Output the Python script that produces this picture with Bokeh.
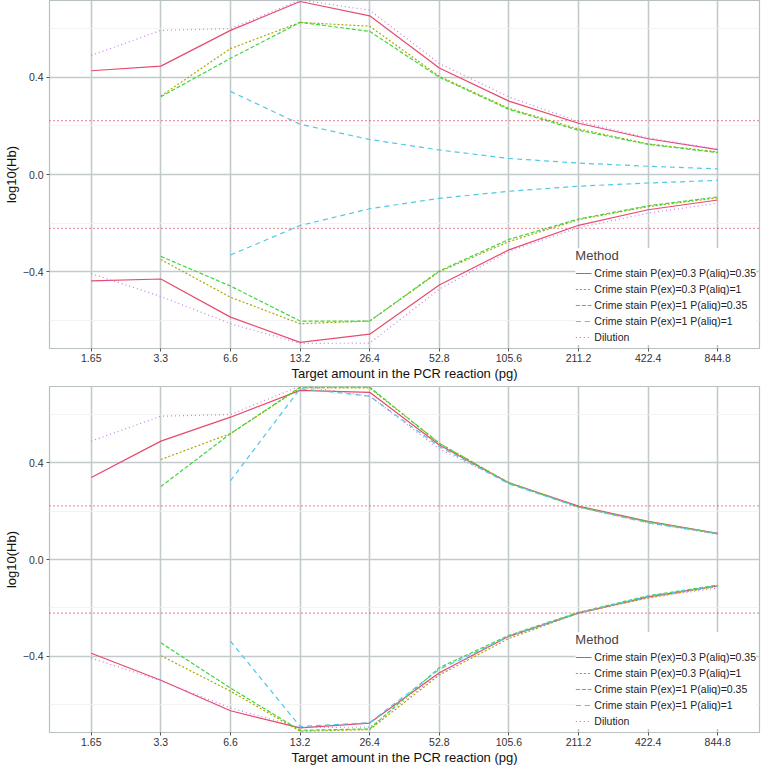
from bokeh.plotting import figure
from bokeh.layouts import column
from bokeh.models import (FactorRange, Range1d, FixedTicker, Span, Legend, LegendItem)
from bokeh.embed import file_html
from bokeh.resources import INLINE

cats = ["1.65", "3.3", "6.6", "13.2", "26.4", "52.8", "105.6", "211.2", "422.4", "844.8"]
methods = ["Crime stain P(ex)=0.3 P(aliq)=0.35", "Crime stain P(ex)=0.3 P(aliq)=1",
           "Crime stain P(ex)=1 P(aliq)=0.35", "Crime stain P(ex)=1 P(aliq)=1", "Dilution"]
thresholds = [0.2218, -0.2218]
y_ticks = [-0.4, 0.0, 0.4]
y_minor = [-0.6, -0.2, 0.2, 0.6]

dil_up = [0.490, 0.593, 0.600, 0.718, 0.676, 0.457, 0.319, 0.218, 0.151, 0.104]
dil_lo = [-0.408, -0.502, -0.614, -0.695, -0.694, -0.472, -0.316, -0.219, -0.159, -0.118]

top_red_up = [0.427, 0.446, 0.593, 0.712, 0.653, 0.438, 0.302, 0.211, 0.147, 0.102]
top_red_lo = [-0.438, -0.430, -0.587, -0.691, -0.657, -0.455, -0.310, -0.209, -0.145, -0.105]
top_olive_up = [None, 0.323, 0.518, 0.626, 0.610, 0.404, 0.272, 0.187, 0.126, 0.093]
top_olive_lo = [None, -0.350, -0.505, -0.614, -0.603, -0.400, -0.276, -0.186, -0.132, -0.096]
top_green_up = [None, 0.320, 0.478, 0.626, 0.589, 0.400, 0.268, 0.182, 0.124, 0.090]
top_green_lo = [None, -0.337, -0.459, -0.603, -0.603, -0.397, -0.267, -0.183, -0.129, -0.092]
top_cyan_up = [None, None, 0.342, 0.207, 0.144, 0.101, 0.066, 0.047, 0.034, 0.023]
top_cyan_lo = [None, None, -0.331, -0.210, -0.141, -0.098, -0.069, -0.048, -0.035, -0.024]

bot_red_up = [0.339, 0.490, 0.589, 0.700, 0.692, 0.474, 0.317, 0.221, 0.158, 0.108]
bot_red_lo = [-0.388, -0.500, -0.626, -0.697, -0.677, -0.469, -0.318, -0.222, -0.155, -0.109]
bot_olive_up = [None, 0.414, 0.521, 0.710, 0.710, 0.481, 0.317, 0.217, 0.156, 0.107]
bot_olive_lo = [None, -0.398, -0.545, -0.711, -0.704, -0.478, -0.327, -0.222, -0.159, -0.111]
bot_green_up = [None, 0.302, 0.521, 0.713, 0.713, 0.481, 0.317, 0.218, 0.156, 0.107]
bot_green_lo = [None, -0.345, -0.532, -0.707, -0.701, -0.448, -0.314, -0.219, -0.150, -0.106]
bot_cyan_up = [None, None, 0.326, 0.707, 0.676, 0.467, 0.313, 0.217, 0.152, 0.107]
bot_cyan_lo = [None, None, -0.338, -0.691, -0.675, -0.455, -0.318, -0.222, -0.152, -0.109]

colors = ["#E64A6A", "#A8A800", "#3DD63D", "#4CC8E8", "#C77CE8"]
dashes = ["solid", "2 2", "4 2", "5 4", "1 3"]

FONT = "Liberation Sans"


def make_panel(series, height, top_border, variant):
    p = figure(width=761, height=height, output_backend="svg", toolbar_location=None,
               x_range=FactorRange(factors=cats, range_padding=0.02, range_padding_units="percent"),
               y_range=Range1d(-0.716, 0.716),
               min_border_top=top_border, min_border_right=2, min_border_left=0,
               min_border_bottom=0)
    p.background_fill_color = "white"
    p.border_fill_color = "white"
    p.outline_line_color = "#b8bfc0"
    p.outline_line_width = 1.2
    p.yaxis.ticker = FixedTicker(ticks=y_ticks, minor_ticks=y_minor)
    p.yaxis.major_label_overrides = {-0.4: "\u22120.4", 0.0: "0.0", 0.4: "0.4"}
    for ax in (p.xaxis[0], p.yaxis[0]):
        ax.axis_line_color = None
        ax.major_tick_in = 0
        ax.major_tick_out = 3
        ax.major_tick_line_color = "#555555"
        ax.minor_tick_line_color = None
        ax.major_label_text_font = FONT
        ax.major_label_text_font_size = "10.5px"
        ax.major_label_text_color = "#333333"
        ax.major_label_standoff = 2
        ax.axis_label_text_font = FONT
        ax.axis_label_text_font_size = "13px"
        ax.axis_label_text_font_style = "normal"
        ax.axis_label_text_color = "#111111"
        ax.axis_label_standoff = 1
    p.xaxis.axis_label = "Target amount in the PCR reaction (pg)"
    p.yaxis.axis_label = "log10(Hb)"
    p.xgrid.grid_line_color = "#c3cacc"
    p.xgrid.grid_line_width = 1.6
    p.ygrid.grid_line_color = "#c3cacc"
    p.ygrid.grid_line_width = 1.6
    p.ygrid.minor_grid_line_color = "#f0f0f0"
    p.ygrid.minor_grid_line_width = 0.8
    for t in thresholds:
        p.add_layout(Span(location=t, dimension="width", line_color="#E0304A",
                          line_dash="1 3", line_width=1.3))
    items = []
    for i, (up, lo) in enumerate(series):
        rs = []
        for vals in (up, lo):
            xs = [c for c, v in zip(cats, vals) if v is not None]
            ys = [v for v in vals if v is not None]
            if variant == "alpha":
                rs.append(p.line(xs, ys, line_color=colors[i], line_alpha=0.99,
                                 line_dash=dashes[i], line_width=1.2))
            else:
                rs.append(p.line(xs, ys, line_color=colors[i], line_dash=dashes[i],
                                 line_width=1.2))
        items.append(LegendItem(label=methods[i], renderers=rs))
    leg = Legend(items=items, location="bottom_right", title="Method")
    leg.title_text_font = FONT
    leg.title_text_font_size = "13px"
    leg.title_text_font_style = "normal"
    leg.title_standoff = 2
    leg.label_text_font = FONT
    leg.label_text_font_size = "10.5px"
    leg.label_text_color = "#222222"
    leg.label_height = 16
    leg.glyph_height = 16
    leg.glyph_width = 16
    leg.label_standoff = 3
    leg.spacing = 0
    leg.padding = 4
    leg.margin = 3
    leg.border_line_color = None
    leg.background_fill_color = "white"
    leg.background_fill_alpha = 1.0
    p.add_layout(leg)
    return p


top_series = [(top_red_up, top_red_lo), (top_olive_up, top_olive_lo),
              (top_green_up, top_green_lo), (top_cyan_up, top_cyan_lo), (dil_up, dil_lo)]
bot_series = [(bot_red_up, bot_red_lo), (bot_olive_up, bot_olive_lo),
              (bot_green_up, bot_green_lo), (bot_cyan_up, bot_cyan_lo), (dil_up, dil_lo)]

p1 = make_panel(top_series, 383, 0, "alpha")
p2 = make_panel(bot_series, 384, 3, "plain")

layout = column(p1, p2, spacing=0)
open("out.html", "w").write(file_html(layout, INLINE))
